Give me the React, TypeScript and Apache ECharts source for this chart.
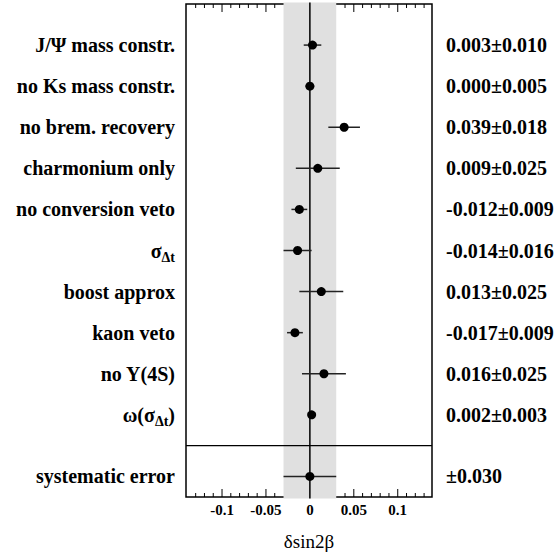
import React, { useEffect, useRef } from "react";
import * as echarts from "echarts";

// ---- data ----
const categories = [
  "J/Ψ mass constr.",
  "no Ks mass constr.",
  "no brem. recovery",
  "charmonium only",
  "no conversion veto",
  "σΔt",
  "boost approx",
  "kaon veto",
  "no Y(4S)",
  "ω(σΔt)",
];
const shifts = [0.003, 0.0, 0.039, 0.009, -0.012, -0.014, 0.013, -0.017, 0.016, 0.002];
const errors = [0.010, 0.005, 0.018, 0.025, 0.009, 0.016, 0.025, 0.009, 0.025, 0.003];
const rows = [1, 2, 3, 4, 5, 6, 7, 8, 9, 10];
const systLabel = "systematic error";
const systShift = 0.0;
const systError = 0.030;
const systRow = 11.5;
const separatorRow = 10.75;
const majorTicks = [-0.1, -0.05, 0, 0.05, 0.1];
const minorTicks = [
  -0.13, -0.12, -0.11, -0.09, -0.08, -0.07, -0.06, -0.04, -0.03, -0.02, -0.01,
  0.01, 0.02, 0.03, 0.04, 0.06, 0.07, 0.08, 0.09, 0.11, 0.12, 0.13,
];
const xMin = -0.141;
const xMax = 0.139;
const yMin = 0;
const yMax = 12;
const xName = "δsin2β";

const FONT = "'Liberation Serif', 'DejaVu Serif', serif";
const MAJOR_LEN = 8;
const MINOR_LEN = 4;

function richName(name: string): string {
  return "{b|" + name.replace("Δt", "}{s|Δt}{b|") + "}";
}

function fmtVal(s: number, e: number): string {
  return s.toFixed(3) + "±" + e.toFixed(3);
}

export default function App() {
  const ref = useRef<HTMLDivElement>(null);
  useEffect(() => {
    if (!ref.current) return;
    const chart = echarts.init(ref.current, null, { renderer: "svg" });

    const leftMap: Record<string, string> = {};
    const rightMap: Record<string, string> = {};
    rows.forEach((r, i) => {
      leftMap[String(r)] = richName(categories[i]);
      rightMap[String(r)] = fmtVal(shifts[i], errors[i]);
    });
    leftMap[String(systRow)] = richName(systLabel);
    rightMap[String(systRow)] = "±" + systError.toFixed(3);

    const labelRich = {
      b: { fontFamily: FONT, fontWeight: "bold", fontSize: 20, color: "#000", lineHeight: 27 },
      s: { fontFamily: FONT, fontWeight: "bold", fontSize: 14, color: "#000", lineHeight: 15, verticalAlign: "bottom" },
    };

    const tickData = [
      ...majorTicks.map((v) => [v, 1]),
      ...minorTicks.map((v) => [v, 0]),
    ];
    const errData = rows.map((r, i) => [shifts[i] - errors[i], shifts[i] + errors[i], r]);
    errData.push([systShift - systError, systShift + systError, systRow]);
    const ptData = rows.map((r, i) => [shifts[i], r]);
    ptData.push([systShift, systRow]);

    chart.setOption({
      animation: false,
      grid: {
        left: 186,
        right: 126,
        top: 4,
        bottom: 58,
        outerBoundsMode: "none",
        containLabel: false,
        show: false,
      },
      xAxis: [
        {
          type: "value",
          position: "bottom",
          min: xMin,
          max: xMax,
          axisLine: { show: false, onZero: false },
          axisTick: { show: false },
          splitLine: { show: false },
          axisLabel: {
            show: true,
            customValues: majorTicks,
            formatter: (v: number) => String(v),
            fontFamily: FONT,
            fontWeight: "bold",
            fontSize: 15,
            color: "#000",
            margin: 5,
          },
          name: xName,
          nameLocation: "middle",
          nameGap: 35,
          nameTextStyle: { fontFamily: FONT, fontSize: 19, color: "#000" },
        },
      ],
      yAxis: [
        {
          type: "value",
          position: "left",
          inverse: true,
          min: yMin,
          max: yMax,
          axisLine: { show: false, onZero: false },
          axisTick: { show: false },
          splitLine: { show: false },
          axisLabel: {
            show: true,
            customValues: [...rows, systRow],
            formatter: (v: number) => leftMap[String(v)] || "",
            margin: 11,
            rich: labelRich,
          },
        },
        {
          type: "value",
          position: "right",
          inverse: true,
          min: yMin,
          max: yMax,
          axisLine: { show: false, onZero: false },
          axisTick: { show: false },
          splitLine: { show: false },
          axisLabel: {
            show: true,
            customValues: [...rows, systRow],
            formatter: (v: number) => rightMap[String(v)] || "",
            margin: 14,
            align: "left",
            fontFamily: FONT,
            fontWeight: "bold",
            fontSize: 20,
            color: "#000",
          },
        },
      ],
      series: [
        {
          type: "custom",
          name: "frame",
          z: 4,
          clip: false,
          data: [[xMin, xMax]],
          renderItem: (params: any, api: any) => {
            const p0 = api.coord([api.value(0), yMin]);
            const p1 = api.coord([api.value(1), yMax]);
            return {
              type: "rect",
              shape: { x: p0[0], y: p0[1], width: p1[0] - p0[0], height: p1[1] - p0[1] },
              style: { fill: "none", stroke: "#000", lineWidth: 1.5 },
            };
          },
        },
        {
          type: "custom",
          name: "band",
          z: 5,
          clip: false,
          data: [[systShift - systError, systShift + systError]],
          renderItem: (params: any, api: any) => {
            const p0 = api.coord([api.value(0), yMin]);
            const p1 = api.coord([api.value(1), yMax]);
            return {
              type: "rect",
              shape: { x: p0[0], y: p0[1] - 1.5, width: p1[0] - p0[0], height: p1[1] - p0[1] + 3 },
              style: { fill: "#e0e0e0" },
            };
          },
        },
        {
          type: "custom",
          name: "guides",
          z: 6,
          clip: false,
          data: [[0, separatorRow]],
          renderItem: (params: any, api: any) => {
            const z0 = api.coord([api.value(0), yMin]);
            const z1 = api.coord([api.value(0), yMax]);
            const s0 = api.coord([xMin, api.value(1)]);
            const s1 = api.coord([xMax, api.value(1)]);
            return {
              type: "group",
              children: [
                {
                  type: "line",
                  shape: { x1: z0[0], y1: z0[1] - 1.5, x2: z1[0], y2: z1[1] + 1.5 },
                  style: { stroke: "#000", lineWidth: 1.5 },
                },
                {
                  type: "line",
                  shape: { x1: s0[0], y1: s0[1], x2: s1[0], y2: s1[1] },
                  style: { stroke: "#000", lineWidth: 1.3 },
                },
              ],
            };
          },
        },
        {
          type: "custom",
          name: "errors",
          z: 7,
          clip: false,
          data: errData,
          renderItem: (params: any, api: any) => {
            const a = api.coord([api.value(0), api.value(2)]);
            const b = api.coord([api.value(1), api.value(2)]);
            return {
              type: "line",
              shape: { x1: a[0], y1: a[1], x2: b[0], y2: b[1] },
              style: { stroke: "#222", lineWidth: 1.5 },
            };
          },
        },
        {
          type: "scatter",
          name: "points",
          z: 8,
          symbol: "circle",
          symbolSize: 9,
          itemStyle: { color: "#000", opacity: 1 },
          data: ptData,
        },
        {
          type: "custom",
          name: "ticks",
          z: 9,
          clip: false,
          data: tickData,
          renderItem: (params: any, api: any) => {
            const v = api.value(0);
            // the grey systematic band hides the ticks underneath it
            if (Math.abs(v - systShift) <= systError + 1e-9) return null;
            const len = api.value(1) ? MAJOR_LEN : MINOR_LEN;
            const bot = api.coord([v, yMax]);
            const cs = params.coordSys;
            const topY = cs && typeof cs.y === "number" ? cs.y : api.coord([v, yMin])[1];
            return {
              type: "group",
              children: [
                {
                  type: "rect",
                  shape: { x: bot[0] - 0.5, y: topY, width: 1, height: len },
                  style: { fill: "#000" },
                },
                {
                  type: "rect",
                  shape: { x: bot[0] - 0.5, y: bot[1] - len, width: 1, height: len },
                  style: { fill: "#000" },
                },
              ],
            };
          },
        },
      ],
    });
    return () => chart.dispose();
  }, []);
  return (
    <div
      ref={ref}
      style={{ position: "fixed", left: 0, top: 0, width: 558, height: 555, background: "#fff" }}
    />
  );
}
